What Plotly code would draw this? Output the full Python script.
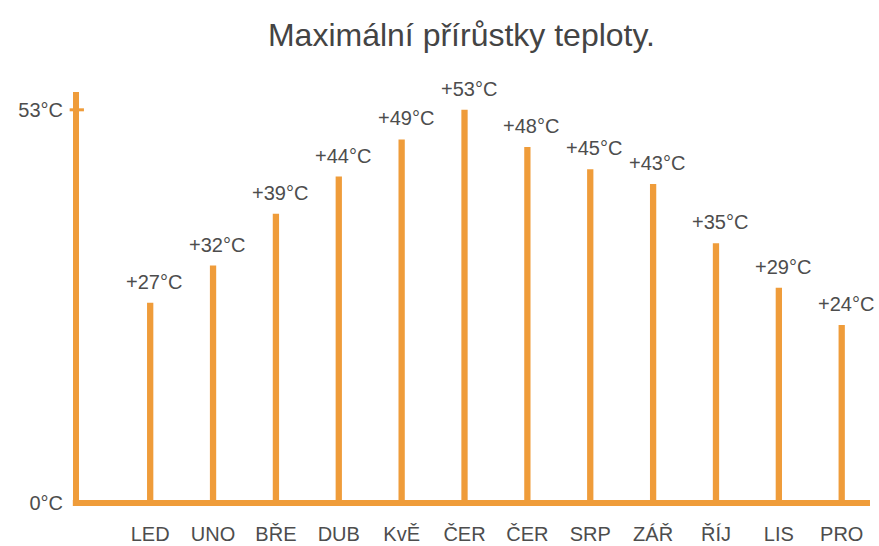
import plotly.graph_objects as go

# Monthly maximum temperature increases
months = ["LED", "UNO", "BŘE", "DUB", "KvĚ", "ČER", "ČER", "SRP", "ZÁŘ", "ŘÍJ", "LIS", "PRO"]
values = [27, 32, 39, 44, 49, 53, 48, 45, 43, 35, 29, 24]
y_tick_vals = [0, 53]
y_tick_text = ["0°C", "53°C"]

ORANGE = "#EF9C3A"
TEXT = "#4d4d4d"

idx = list(range(len(months)))

fig = go.Figure()
fig.add_trace(go.Bar(
    x=idx, y=values, width=0.1,
    marker=dict(color=ORANGE, line=dict(width=0)),
    hoverinfo="skip",
))

for i, v in zip(idx, values):
    fig.add_annotation(
        x=i, y=v, text=f"+{v}°C", showarrow=False,
        yanchor="bottom", yshift=8, xshift=4,
        font=dict(family="Arial", size=20, color=TEXT),
    )

x_range = [-1.18, 11.45]
y_range = [0, 55.4]

# Axis lines drawn as thick orange strokes (paper coordinates, so not clipped)
fig.add_shape(type="line", xref="paper", yref="paper", x0=-0.004, x1=1, y0=0, y1=0,
              line=dict(color=ORANGE, width=6), layer="above")
fig.add_shape(type="line", xref="paper", yref="paper", x0=0, x1=0, y0=-0.006, y1=1,
              line=dict(color=ORANGE, width=6), layer="above")
# small tick at the top value
fig.add_shape(type="line", xref="paper", yref="y", x0=-0.008, x1=0.01, y0=53, y1=53,
              line=dict(color=ORANGE, width=3), layer="above")

fig.update_layout(
    width=879, height=546,
    margin=dict(l=76, r=9, t=92, b=43),
    paper_bgcolor="white", plot_bgcolor="white",
    showlegend=False,
    title=dict(text="Maximální přírůstky teploty.", x=0.525, xanchor="center", y=0.937, yanchor="middle",
               font=dict(family="Arial", size=32, color="#444444")),
    xaxis=dict(range=x_range, tickmode="array", tickvals=idx, ticktext=months,
               showgrid=False, zeroline=False, showline=False, ticks="", automargin=False,
               tickfont=dict(family="Arial", size=20, color=TEXT), ticklabelstandoff=17),
    yaxis=dict(range=y_range, tickmode="array", tickvals=y_tick_vals, ticktext=y_tick_text,
               showgrid=False, zeroline=False, showline=False, ticks="", automargin=False,
               tickfont=dict(family="Arial", size=20, color=TEXT), ticklabelstandoff=12),
)

fig.write_html("out.html")
